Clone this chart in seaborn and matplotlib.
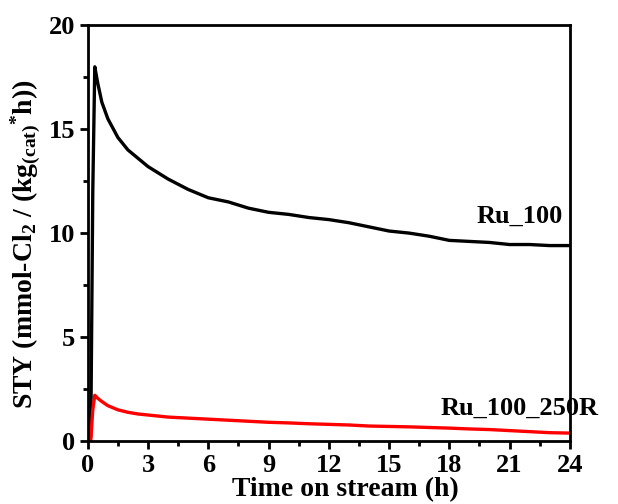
import pandas as pd
import matplotlib
matplotlib.use("Agg")
import matplotlib.pyplot as plt
from matplotlib.ticker import MultipleLocator
import seaborn as sns

# Values (time in h, STY)
time_ru100 = [0.0, 0.1, 0.15, 0.25, 0.35, 0.5, 0.7, 1.0, 1.5, 2.0, 2.5, 3.0, 4.0, 5.0, 6.0,
              7.0, 8.0, 9.0, 10.0, 11.0, 12.0, 13.0, 14.0, 15.0, 16.0, 17.0, 18.0, 19.0,
              20.0, 21.0, 22.0, 23.0, 24.0]
sty_ru100 = [0.0, 0.0, 0.2, 12.0, 18.0, 17.2, 16.3, 15.5, 14.6, 14.0, 13.6, 13.2, 12.6, 12.1, 11.7,
             11.5, 11.2, 11.0, 10.9, 10.75, 10.65, 10.5, 10.3, 10.1, 10.0, 9.85, 9.65, 9.6,
             9.55, 9.45, 9.45, 9.4, 9.4]

time_ru250 = [0.0, 0.1, 0.15, 0.25, 0.35, 0.5, 0.7, 1.0, 1.5, 2.0, 2.5, 3.0, 4.0, 5.0, 6.0,
              7.0, 8.0, 9.0, 10.0, 11.0, 12.0, 13.0, 14.0, 15.0, 16.0, 17.0, 18.0, 19.0,
              20.0, 21.0, 22.0, 23.0, 24.0]
sty_ru250 = [0.0, 0.0, 0.05, 1.5, 2.2, 2.05, 1.9, 1.7, 1.5, 1.38, 1.3, 1.25, 1.15, 1.1, 1.05,
             1.0, 0.95, 0.9, 0.87, 0.83, 0.8, 0.77, 0.72, 0.7, 0.68, 0.65, 0.62, 0.58,
             0.55, 0.5, 0.45, 0.4, 0.38]

sns.set_style("ticks")
plt.rcParams['font.family'] = ['Liberation Serif', 'DejaVu Serif']
plt.rcParams['font.weight'] = 'bold'
plt.rcParams['text.color'] = 'black'
plt.rcParams['axes.labelcolor'] = 'black'
plt.rcParams['xtick.color'] = 'black'
plt.rcParams['ytick.color'] = 'black'
plt.rcParams['axes.edgecolor'] = 'black'
plt.rcParams['mathtext.fontset'] = 'custom'
plt.rcParams['mathtext.rm'] = 'Liberation Serif:bold'
plt.rcParams['mathtext.it'] = 'Liberation Serif:bold'
plt.rcParams['mathtext.bf'] = 'Liberation Serif:bold'

df1 = pd.DataFrame({'Time': time_ru100, 'STY': sty_ru100})
df2 = pd.DataFrame({'Time': time_ru250, 'STY': sty_ru250})

fig = plt.figure(figsize=(6.18, 5.04), dpi=100)
ax = fig.add_axes([0.142, 0.125, 0.780, 0.825])

sns.lineplot(x='Time', y='STY', data=df1, ax=ax, color='black', linewidth=2.4)
sns.lineplot(x='Time', y='STY', data=df2, ax=ax, color='red', linewidth=2.4)

ax.set_xlim(0, 24)
ax.set_ylim(0, 20)
ax.xaxis.set_major_locator(MultipleLocator(3))
ax.xaxis.set_minor_locator(MultipleLocator(1.5))
ax.yaxis.set_major_locator(MultipleLocator(5))
ax.yaxis.set_minor_locator(MultipleLocator(2.5))
ax.tick_params(which='major', direction='out', length=6, width=2, labelsize=19, pad=3)
ax.tick_params(which='minor', direction='out', length=3.5, width=2)
for s in ax.spines.values():
    s.set_linewidth(2)
    s.set_visible(True)

ax.set_xlabel('Time on stream (h)', fontsize=20, fontweight='bold')
ax.set_ylabel(r'STY (mmol-Cl$_2$ / (kg$_{(cat)}$$^{*}$h))', fontsize=20, fontweight='bold')
ax.xaxis.set_label_coords(0.535, -0.087)
ax.yaxis.set_label_coords(-0.092, 0.474)

ax.text(21.5, 10.8, 'Ru_100', fontsize=19, fontweight='bold', ha='center', va='center')
ax.text(21.5, 1.55, 'Ru_100_250R', fontsize=19, fontweight='bold', ha='center', va='center')

plt.savefig('out.png', dpi=100)
